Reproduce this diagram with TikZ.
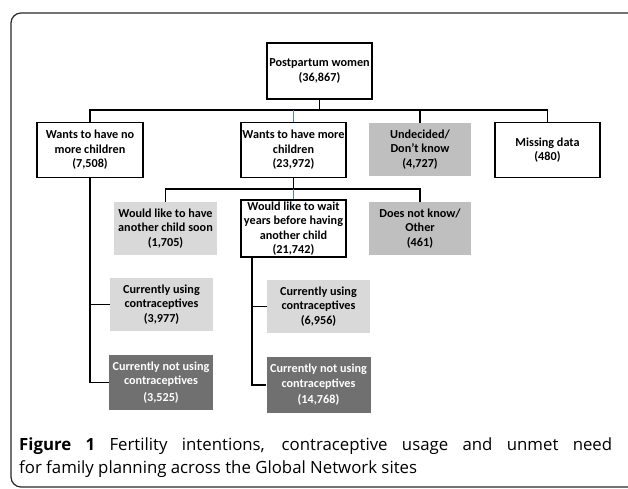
\documentclass[tikz,border=0pt]{standalone}
\usepackage{fontspec}
\setmainfont{Carlito}
\newfontfamily\capfont{Open Sans}
\usetikzlibrary{positioning}
\definecolor{lightgrey}{RGB}{217,217,217}
\definecolor{midgrey}{RGB}{191,191,191}
\definecolor{darkgrey}{RGB}{112,112,112}
\definecolor{linkblue}{RGB}{79,129,189}
\definecolor{framegrey}{RGB}{40,40,40}
\tikzset{
        % all boxes share the font and the centring
        box/.style={align=center, inner sep=0pt,
            font=\bfseries\fontsize{12.2}{14.5}\selectfont},
        whitebox/.style={box, draw=black, line width=1.6pt, fill=white},
        lightbox/.style={box, fill=lightgrey},
        midbox/.style={box, fill=midgrey},
        darkbox/.style={box, fill=darkgrey, text=white},
        link/.style={line width=1.6pt},
        bluelink/.style={draw=linkblue, line width=1.2pt}
    }
\begin{document}
\begin{tikzpicture}[x=1pt,y=-1pt]
\useasboundingbox (0,0) rectangle (628,489);

%Shape: Frame
\draw [framegrey, line width=1.2pt, rounded corners=10pt] (11,13) rectangle (645,487);

% Top box
\node [whitebox, minimum width=105pt, minimum height=56pt] (root) at (319.5,71) {Postpartum women\\(36,867)};
% First row
\node [whitebox, minimum width=106pt, minimum height=55pt] (nomore) at (90,150) {Wants to have no\\more children\\(7,508)};
\node [whitebox, minimum width=105pt, minimum height=55pt] (more) at (293.5,150) {Wants to have more\\children\\(23,972)};
\node [midbox, minimum width=102pt, minimum height=53pt] (undecided) at (420,149.5) {Undecided/\\Don’t know\\(4,727)};
\node [whitebox, minimum width=105pt, minimum height=55pt] (missing) at (547.5,150) {Missing data\\(480)};
% Second row
\node [lightbox, minimum width=103pt, minimum height=53pt] (soon) at (165.5,228.5) {Would like to have\\another child soon\\(1,705)};
\node [whitebox, minimum width=105pt, minimum height=57pt] (wait) at (293.5,228.5) {Would like to wait\\years before having\\another child\\(21,742)};
\node [midbox, minimum width=102pt, minimum height=53pt] (dontknow) at (420,228.5) {Does not know/\\Other\\(461)};
% Third row
\node [lightbox, minimum width=103pt, minimum height=53pt] (useA) at (161.5,304.5) {Currently using\\contraceptives\\(3,977)};
\node [darkbox, minimum width=104pt, minimum height=55pt] (nouseA) at (161,382.5) {Currently not using\\contraceptives\\[2pt](3,525)};
\node [lightbox, minimum width=103pt, minimum height=53pt] (useB) at (318.5,306.5) {Currently using\\contraceptives\\(6,956)};
\node [darkbox, minimum width=104pt, minimum height=56pt] (nouseB) at (318.5,385) {Currently not using\\contraceptives\\[2pt](14,768)};

%Straight Lines: first split
\coordinate (busA) at (0,110);
\draw [link] (root.south) -- (root.south |- busA);
\draw [link] (nomore.north) -- (nomore.north |- busA) -- (missing.north |- busA) -- (missing.north);
\draw [link] (undecided.north |- busA) -- (undecided.north);
\draw [bluelink] (more.north |- busA) -- (more.north);

%Straight Lines: second split
\coordinate (busB) at (0,189);
\draw [link] (more.south) -- (more.south |- busB);
\draw [link] (soon.north) -- (soon.north |- busB) -- (dontknow.north |- busB) -- (dontknow.north);
\draw [bluelink] (wait.north |- busB) -- (wait.north);

%Straight Lines: contraceptive use
\draw [link] (nomore.south) |- (nouseA.west);
\draw [link] (nomore.south |- useA.west) -- (useA.west);
\coordinate (trunkB) at (252,0);
\draw [link] (trunkB |- wait.south) |- (nouseB.west);
\draw [link] (trunkB |- useB.west) -- (useB.west);

% Caption
\node [anchor=west, align=justify, text width=593pt, inner sep=0pt, font=\capfont\fontsize{16.8}{23}\selectfont] (caption) at (19,457.5) {\textbf{Figure 1} Fertility intentions, contraceptive usage and unmet need\linebreak for family planning across the Global Network sites};

\end{tikzpicture}
\end{document}
